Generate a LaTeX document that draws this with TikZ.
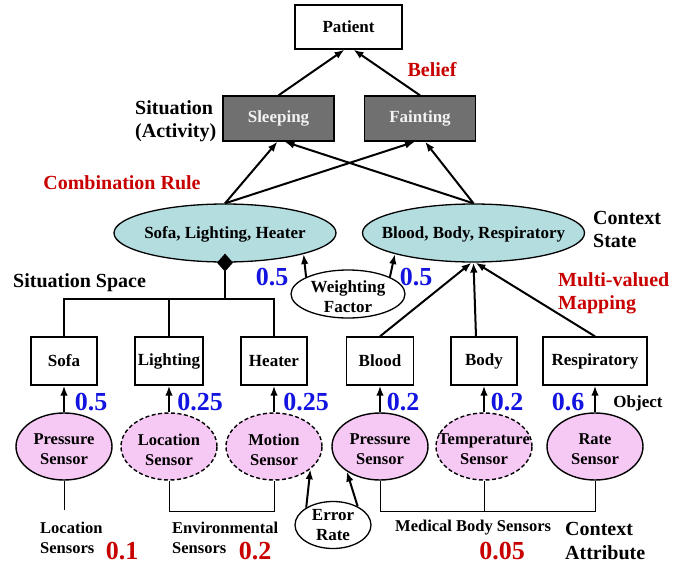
\documentclass[tikz,border=0pt]{standalone}
\usepackage{fontspec}
\setmainfont{Liberation Serif}
\usetikzlibrary{arrows.meta,shapes.geometric}
\definecolor{ctxfill}{RGB}{180,221,224}
\definecolor{senfill}{RGB}{246,200,244}
\definecolor{sitfill}{RGB}{112,112,112}
\definecolor{lblred}{RGB}{200,0,0}
\definecolor{lblblue}{RGB}{20,20,225}
\newcommand\bsz[2]{\fontsize{#1}{#2}\selectfont\bfseries}

\begin{document}
\begin{tikzpicture}[x=1pt,y=-1pt,
  every node/.style={inner sep=0pt, font=\bsz{17}{20}},
  objbox/.style={draw, line width=1.3pt, fill=white, minimum width=66pt, minimum height=48pt},
  sitbox/.style={draw, line width=1.3pt, fill=sitfill, text=black!5, minimum width=111pt, minimum height=45pt},
  ctxell/.style={draw, ellipse, line width=1.3pt, fill=ctxfill, minimum width=222pt, minimum height=58pt},
  senell/.style={draw, ellipse, line width=1.4pt, fill=senfill, minimum width=96pt, minimum height=67pt},
  soft/.style={dash pattern=on 4pt off 2.5pt},
  plainell/.style={draw, ellipse, line width=1.3pt, fill=white},
  link/.style={line width=2pt, -{Latex[length=10pt,width=7.5pt]}},
  bracket/.style={line width=1.8pt},
  wire/.style={line width=1pt},
  redlbl/.style={text=lblred, font=\bsz{20}{23}},
  bluenum/.style={text=lblblue, font=\bsz{26}{26}},
  rednum/.style={text=lblred, font=\bsz{26}{26}},
  biglbl/.style={font=\bsz{20}{23}, align=left, anchor=west},
  smalllbl/.style={font=\bsz{16.5}{20}, align=left, anchor=west},
  seninner/.style={font=\bsz{16.5}{20}, align=center, yshift=-3pt}
]
\path[use as bounding box] (0,0) rectangle (686,565);

% top levels
\node[draw, line width=1.3pt, fill=white, minimum width=107pt, minimum height=44pt] (pat) at (348.5,27) {Patient};
\node[sitbox] (sleep) at (278.5,118.5) {Sleeping};
\node[sitbox] (faint) at (420,118.5) {Fainting};

% context states
\node[ctxell] (cl) at (225,233) {};
\node (clt) at (225,234) {Sofa, Lighting, Heater};
\node[ctxell] (cr) at (473.5,233) {};
\node (crt) at (473.5,234) {Blood, Body, Respiratory};

% weighting factor
\node[plainell, minimum width=114pt, minimum height=48pt] (wf) at (348,294) {};
\node[align=center] (wft) at (348,297) {Weighting\\Factor};

% objects
\node[objbox] (sofa) at (64,361) {Sofa};
\node[objbox, minimum width=68pt] (light) at (169,361) {Lighting};
\node[objbox] (heater) at (274,361) {Heater};
\node[objbox, minimum width=67pt] (blood) at (380,361) {Blood};
\node[objbox] (body) at (484,361) {Body};
\node[objbox, minimum width=104pt] (resp) at (595,361) {Respiratory};

% sensors
\node[senell] (s1) at (64,446.5) {};
\node[senell, soft] (s2) at (169,446.5) {};
\node[senell, soft] (s3) at (274,446.5) {};
\node[senell] (s4) at (380,446.5) {};
\node[senell, soft] (s5) at (484,446.5) {};
\node[senell] (s6) at (595,446.5) {};
\node[seninner] (s1t) at (s1) {Pressure\\Sensor};
\node[seninner] (s2t) at (s2) {Location\\Sensor};
\node[seninner] (s3t) at (s3) {Motion\\Sensor};
\node[seninner] (s4t) at (s4) {Pressure\\Sensor};
\node[seninner] (s5t) at (s5) {Temperature\\Sensor};
\node[seninner] (s6t) at (s6) {Rate\\Sensor};

% error rate
\node[plainell, minimum width=76pt, minimum height=47pt] (er) at (333,525) {};
\node[align=center] (ert) at (er) {Error\\Rate};

% situation space bracket with aggregation diamond
\coordinate (jn) at (225,299);
\draw[bracket] (cl.south) -- (jn);
\draw[bracket] (sofa.north) |- (jn) -| (heater.north);
\draw[bracket] (light.north) -- (light.north |- jn);
\fill (cl.south) ++(0,-9) -- ++(8,9) -- ++(-8,9) -- ++(-8,-9) -- cycle;

% belief arrows
\draw[link] (sleep.north) -- ([xshift=-4pt]pat.south);
\draw[link] (faint.north) -- ([xshift=5pt]pat.south);

% combination rule arrows
\draw[link] (cl.north) -- ([xshift=-1pt]sleep.south);
\draw[link] (cl.north) -- ([xshift=-5pt]faint.south);
\draw[link] (cr.north) -- ([xshift=6pt]sleep.south);
\draw[link] (cr.north) -- ([xshift=5pt]faint.south);

% weighting arrows
\draw[link] (wf.158) -- (cl.-15);
\draw[link] (wf.22) -- (cr.-165);

% multi-valued mapping
\draw[link] (blood.north) -- ([xshift=-2pt]cr.south);
\draw[link] ([xshift=-8pt]body.north) -- (cr.south);
\draw[link] (resp.north) -- ([xshift=2pt]cr.south);

% sensor to object
\draw[link] (s1.north) -- (sofa.south);
\draw[link] (s2.north) -- (light.south);
\draw[link] (s3.north) -- (heater.south);
\draw[link] (s4.north) -- (blood.south);
\draw[link] (s5.north) -- (body.south);
\draw[link] (s6.north) -- (resp.south);

% error rate arrows
\draw[link] (er.147) -- (s3.-32);
\draw[link] (er.37) -- (s4.-143);

% sensor groups
\draw[wire] (s1.south) -- ++(0,29);
\draw[wire] (s2.south) -- ++(0,31) -| (s3.south);
\draw[wire] (s4.south) -- ++(0,31) -| (s6.south);
\draw[wire] (s5.south) -- ++(0,31);

% labels
\node[redlbl] (belief) at (432,70) {Belief};
\node[biglbl] (sitlbl) at (135,121) {Situation\\(Activity)};
\node[redlbl] (comb) at (122,183) {Combination Rule};
\node[biglbl] (ctxst) at (593,229) {Context\\State};
\node[biglbl, text=lblred] (mvm) at (558,293.5) {Multi-valued\\Mapping};
\node[biglbl] (sitsp) at (13,283) {Situation Space};
\node[bluenum] (wl) at (272,277) {0.5};
\node[bluenum] (wr) at (416,277) {0.5};

\node[bluenum] (w1) at (91,402) {0.5};
\node[bluenum] (w2) at (200,402) {0.25};
\node[bluenum] (w3) at (306,402) {0.25};
\node[bluenum] (w4) at (403,402) {0.2};
\node[bluenum] (w5) at (507,402) {0.2};
\node[bluenum] (w6) at (568,402) {0.6};
\node (objlbl) at (638,403) {Object};

\node[smalllbl] (loclbl) at (40,538) {Location\\Sensors};
\node[rednum] (r1) at (122,551) {0.1};
\node[smalllbl] (envlbl) at (172,538) {Environmental\\Sensors};
\node[rednum] (r2) at (255,551) {0.2};
\node[smalllbl] (medlbl) at (395,528) {Medical Body Sensors};
\node[rednum] (r3) at (502,551) {0.05};
\node[biglbl, font=\bsz{20}{24}] (ctxat) at (565,541) {Context\\Attribute};
\end{tikzpicture}
\end{document}
